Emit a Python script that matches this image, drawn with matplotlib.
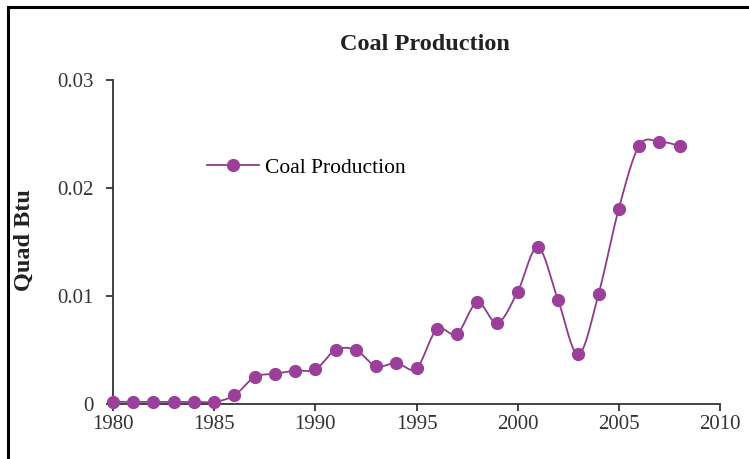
import numpy as np
import matplotlib
matplotlib.use("Agg")
import matplotlib.pyplot as plt
from matplotlib.patches import Rectangle
from matplotlib.lines import Line2D

# ─── data ──────────────────────────────────────────────────────
years = list(range(1980, 2009))
coal_quad_btu = [
    0.0002, 0.0002, 0.0002, 0.0002, 0.0002, 0.0002,
    0.0008, 0.0025, 0.0028, 0.0031, 0.0032,
    0.0050, 0.0050, 0.0035, 0.0038, 0.0033,
    0.0069, 0.0065, 0.0094, 0.0075, 0.0104,
    0.0145, 0.0096, 0.0046, 0.0102, 0.0181,
    0.0239, 0.0243, 0.0239,
]
x_ticks = [1980, 1985, 1990, 1995, 2000, 2005, 2010]
y_ticks = [0, 0.01, 0.02, 0.03]
y_tick_labels = ["0", "0.01", "0.02", "0.03"]

LINE_COL = "#8e3a8e"
MARK_COL = "#9b3f9b"
SERIF = ["Liberation Serif", "DejaVu Serif"]


def smooth_curve(x, y, steps=30):
    """Cubic Bezier through every point, control points from neighbours."""
    x = np.asarray(x, float)
    y = np.asarray(y, float)
    xs, ys = [], []
    n = len(x)
    for i in range(n - 1):
        p0 = np.array([x[max(i - 1, 0)], y[max(i - 1, 0)]])
        p1 = np.array([x[i], y[i]])
        p2 = np.array([x[i + 1], y[i + 1]])
        p3 = np.array([x[min(i + 2, n - 1)], y[min(i + 2, n - 1)]])
        c1 = p1 + (p2 - p0) / 6.0
        c2 = p2 - (p3 - p1) / 6.0
        t = np.linspace(0, 1, steps)[:, None]
        pts = ((1 - t) ** 3) * p1 + 3 * ((1 - t) ** 2) * t * c1 \
            + 3 * (1 - t) * t ** 2 * c2 + t ** 3 * p2
        xs.append(pts[:, 0])
        ys.append(pts[:, 1])
    return np.concatenate(xs), np.concatenate(ys)


fig = plt.figure(figsize=(7.49, 4.59), dpi=100)
W, H = 749, 459

# outer chart frame (runs off the right and bottom edges)
fig.patches.append(Rectangle((7.5 / W, -0.05), 1.1, (H - 6.5) / H + 0.05,
                             transform=fig.transFigure, fill=False,
                             edgecolor="black", linewidth=2.2))

ax = fig.add_axes([113 / W, (H - 404) / H, 607 / W, 324 / H])

sx, sy = smooth_curve(years, coal_quad_btu)
ax.plot(sx, sy, color=LINE_COL, linewidth=1.3, zorder=3, clip_on=False)
ax.plot(years, coal_quad_btu, linestyle="none", marker="o", markersize=8.5,
        color=MARK_COL, zorder=4, clip_on=False)

ax.set_xlim(1980, 2010)
ax.set_ylim(0, 0.03)
ax.set_xticks(x_ticks)
ax.set_xticklabels([str(v) for v in x_ticks], fontfamily=SERIF, fontsize=15)
ax.set_yticks(y_ticks)
ax.set_yticklabels(y_tick_labels, fontfamily=SERIF, fontsize=15)
ax.tick_params(direction="out", length=5, width=1.3, colors="#333333",
               labelcolor="#333333", pad=3)
ax.tick_params(axis="y", pad=9)
for side in ("top", "right"):
    ax.spines[side].set_visible(False)
for side in ("left", "bottom"):
    ax.spines[side].set_linewidth(1.3)
    ax.spines[side].set_color("#333333")

fig.text(425 / W, (H - 44) / H, "Coal Production", ha="center", va="center",
         fontfamily=SERIF, fontsize=17.5, fontweight="bold", color="#222222")
fig.text(24 / W, (H - 240) / H, "Quad Btu", ha="center", va="center",
         rotation=90, fontfamily=SERIF, fontsize=17.5, fontweight="bold",
         color="#222222")

handle = Line2D([], [], color=LINE_COL, linewidth=1.3, marker="o",
                markersize=8.5, markerfacecolor=MARK_COL, markeredgecolor=MARK_COL)
ax.legend([handle], ["Coal Production"], loc="center left",
          bbox_to_anchor=(0.13, 0.73), frameon=False, handlelength=2.4,
          handletextpad=0.3, borderpad=0.2, prop={"family": SERIF, "size": 15.5})

fig.savefig("out.png", dpi=100)
